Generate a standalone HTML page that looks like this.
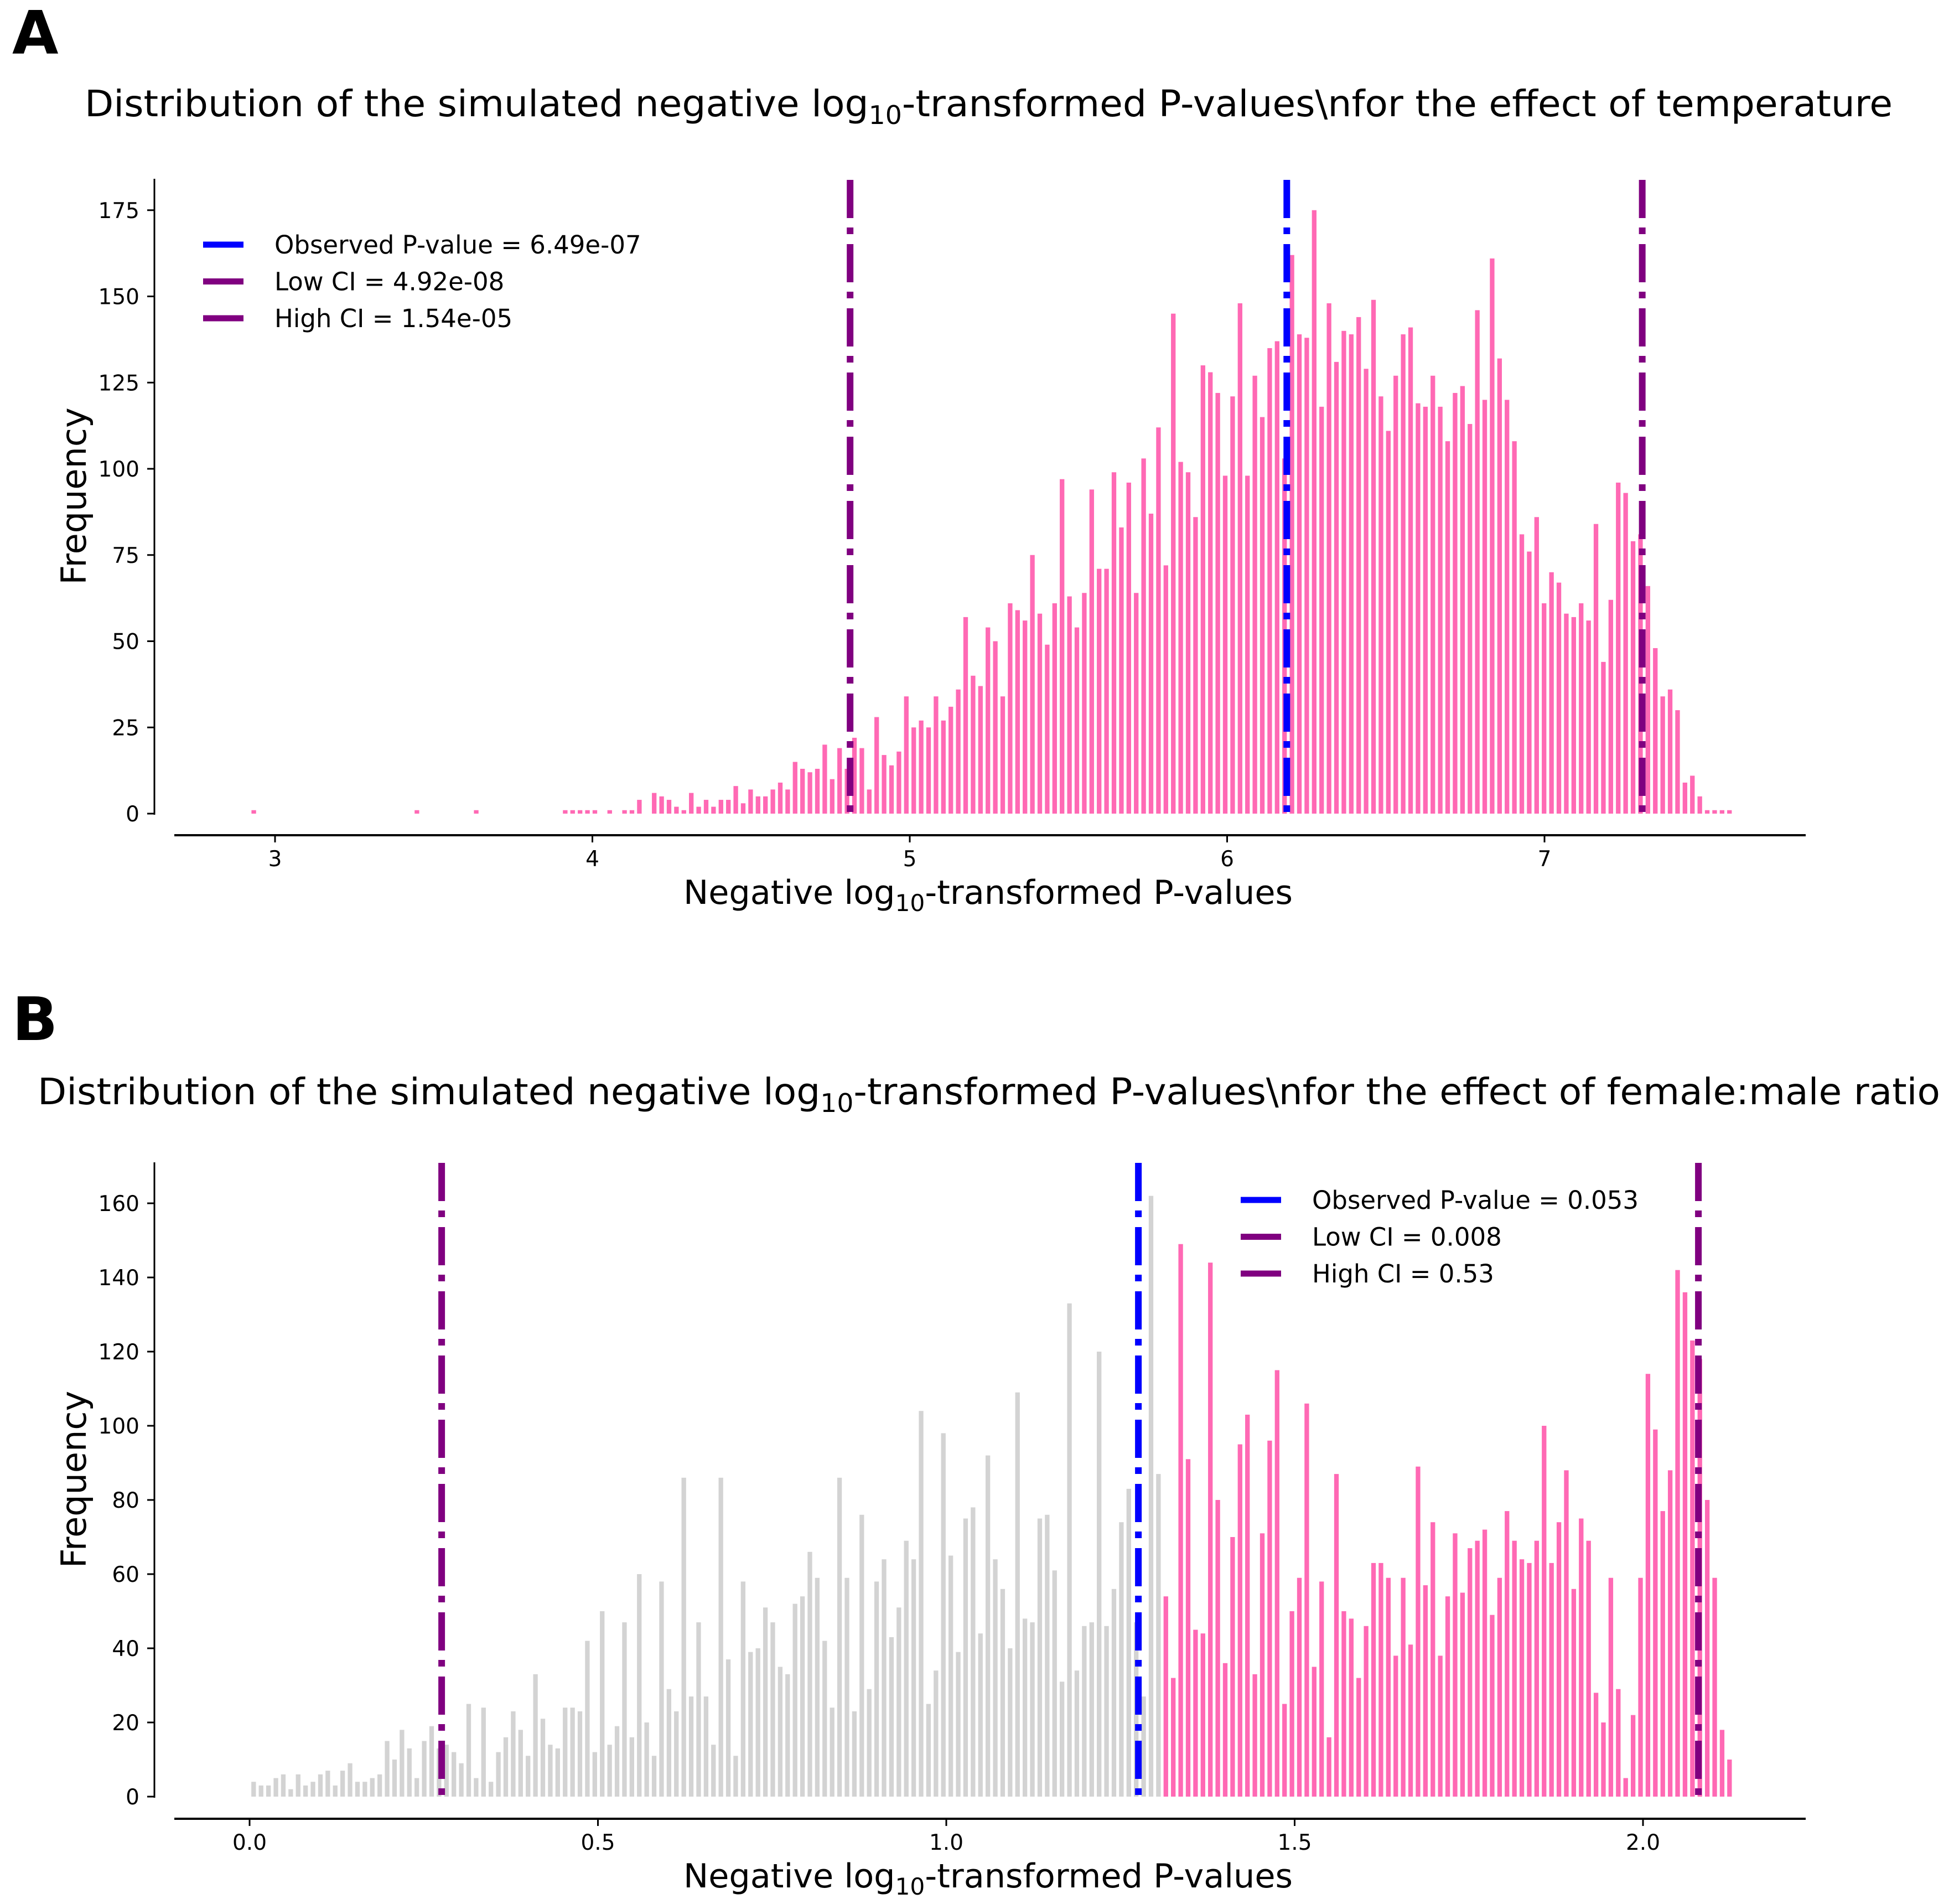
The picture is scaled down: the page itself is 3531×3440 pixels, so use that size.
<!DOCTYPE html>
<html><head><meta charset="utf-8"><style>
html,body{margin:0;padding:0;background:#fff;}
svg{display:block;font-family:"DejaVu Sans","Liberation Sans",sans-serif;}
</style></head><body>
<svg id="fig" width="3531" height="3440" viewBox="0 0 3531 3440" xmlns="http://www.w3.org/2000/svg">
<rect width="3531" height="3440" fill="#fff"/>
<text x="22" y="97" font-size="108" font-weight="bold">A</text>
<text x="153" y="210" font-size="66" textLength="3267" lengthAdjust="spacingAndGlyphs">Distribution of the simulated negative log<tspan font-size="46" dy="14">10</tspan><tspan dy="-14">-transformed P-values\nfor the effect of temperature</tspan></text>
<text x="22" y="1879" font-size="108" font-weight="bold">B</text>
<text x="68" y="1995" font-size="66" textLength="3438" lengthAdjust="spacingAndGlyphs">Distribution of the simulated negative log<tspan font-size="46" dy="14">10</tspan><tspan dy="-14">-transformed P-values\nfor the effect of female:male ratio</tspan></text>
<g id="pa"></g>
<g id="pb"></g>
</svg>
<script>
// ---- Panel A data ----
const countsA = [1,0,0,0,0,0,0,0,0,0,0,0,0,0,0,0,0,0,0,0,0,0,1,0,0,0,0,0,0,0,1,0,0,0,0,0,0,0,0,0,0,0,1,1,1,1,1,0,1,0,1,1,
4,0,6,5,4,2,1,6,2,4,2,4,4,8,3,7,5,5,7,9,7,15,13,12,13,20,10,19,13,22,19,7,28,17,14,18,34,25,27,25,34,27,31,36,57,
40,37,54,50,34,61,59,56,75,58,49,61,97,63,54,64,94,71,71,99,83,96,64,103,87,112,72,145,102,99,86,130,128,122,98,121,148,98,127,115,135,137,103,162,139,138,175,118,148,131,140,139,144,
129,149,121,111,127,139,141,119,118,127,118,108,122,124,113,146,120,161,132,120,108,81,76,86,61,70,67,58,57,61,56,84,44,62,96,93,79,81,66,48,34,36,30,9,11,5,1,1,1,1];
const binStartA = 2.9213;
const binWidthA = 0.023366;
const ticksA_x = [3,4,5,6,7];
const ticksA_y = [0,25,50,75,100,125,150,175];
const linesA = [6.188, 4.812, 7.308];
const legendA = ["Observed P-value = 6.49e-07","Low CI = 4.92e-08","High CI = 1.54e-05"];

// ---- Panel B data ----
const countsB = [4,3,3,5,6,2,6,3,4,6,7,3,7,9,4,4,5,6,15,10,18,13,5,15,19,13,14,12,9,25,5,24,4,12,16,23,18,11,33,21,14,13,24,24,23,42,12,50,14,19,47,16,60,20,11,58,29,23,86,27,47,27,14,86,37,11,
58,39,40,51,47,35,33,52,54,66,59,42,24,86,59,23,76,29,58,64,43,51,69,64,104,25,34,98,65,39,75,78,44,92,64,56,40,109,48,47,75,76,61,31,133,34,46,47,120,46,56,74,83,47,27,162,87,54,32,149,91,45,44,144,80,36,70,95,
103,33,71,96,115,25,50,59,106,35,58,16,87,50,48,32,46,63,63,59,38,59,41,89,57,74,38,54,71,55,67,69,72,49,59,77,69,64,63,69,100,63,74,88,56,75,69,28,20,59,29,5,22,59,114,99,77,88,142,136,123,118,80,59,18,10];
const binStartB = 0.0005;
const binWidthB = 0.010645;
const sigThreshold = 1.30103;
const ticksB_x = [0.0,0.5,1.0,1.5,2.0];
const ticksB_y = [0,20,40,60,80,100,120,140,160];
const linesB = [1.2757, 0.2757, 2.0795];
const legendB = ["Observed P-value = 0.053","Low CI = 0.008","High CI = 0.53"];

const NS = "http://www.w3.org/2000/svg";
function mk(parent, tag, attrs, text){
  const e = document.createElementNS(NS, tag);
  for (const k in attrs) e.setAttribute(k, attrs[k]);
  if (text !== undefined) e.textContent = text;
  parent.appendChild(e);
  return e;
}
function drawPanel(g, o){
  const {counts, binStart, binWidth, xf, yf, ticksX, ticksY, fmtX, lines, legend, P, colorOf} = o;
  counts.forEach((c, i) => {
    if (c <= 0) return;
    const left = binStart + i*binWidth;
    const cx = xf(left + binWidth/2);
    const w = (xf(left+binWidth) - xf(left))*0.62;
    const r = mk(g, 'rect', {x: cx - w/2, y: yf(c), width: w, height: yf(0) - yf(c), fill: colorOf(left)});
    
    
  });
  const lcol = ['#0000ff', '#800080', '#800080'];
  lines.forEach((v, i) => {
    const l = mk(g, 'line', {x1: xf(v), x2: xf(v), y1: P.vTop, y2: P.vBot, stroke: lcol[i], 'stroke-width': 12, 'stroke-dasharray': '69 17 12 18'});
    
    
  });
  const ya = mk(g, 'line', {x1: 279, x2: 279, y1: P.yTop, y2: yf(0) + 2, stroke: '#000', 'stroke-width': 3});
  
  
  ticksY.forEach(t => {
    const y = yf(t);
    const tk = mk(g, 'line', {x1: 266, x2: 279, y1: y, y2: y, stroke: '#000', 'stroke-width': 3});
    
    
    const tl = mk(g, 'text', {x: 252, y: y + 14, 'font-size': 39, 'text-anchor': 'end'}, String(t));
    
    
  });
  const xa = mk(g, 'line', {x1: 315, x2: 3263, y1: P.xAxisY, y2: P.xAxisY, stroke: '#000', 'stroke-width': 4});
  
  
  ticksX.forEach(t => {
    const x = xf(t);
    const tk = mk(g, 'line', {x1: x, x2: x, y1: P.xAxisY, y2: P.xAxisY + 13, stroke: '#000', 'stroke-width': 3});
    
    
    const tl = mk(g, 'text', {x: x, y: P.xAxisY + 56, 'font-size': 39, 'text-anchor': 'middle'}, fmtX(t));
    
    
  });
  const xt = mk(g, 'text', {x: 1235, y: P.xAxisY + 124, 'font-size': 60, textLength: 1101, lengthAdjust: 'spacingAndGlyphs'});
  
  
  xt.appendChild(document.createTextNode('Negative log'));
  mk(xt, 'tspan', {'font-size': 42, dy: 13}, '10');
  mk(xt, 'tspan', {dy: -13}, '-transformed P-values');
  const yc = (P.yTop + yf(0)) / 2;
  const yt = mk(g, 'text', {x: 0, y: 0, 'font-size': 62, 'text-anchor': 'middle', transform: `translate(155 ${yc}) rotate(-90)`}, 'Frequency');
  
  
  legend.forEach((s, i) => {
    const y = P.legY + i*66.5;
    const ll = mk(g, 'line', {x1: P.legX, x2: P.legX + 73, y1: y, y2: y, stroke: lcol[i], 'stroke-width': 11});
    
    
    const lt = mk(g, 'text', {x: P.legX + 129, y: y + 16, 'font-size': 45}, s);
    
    
  });
}
const xA = v => 497 + (v - 3) * 573.5;
const yA = c => 1470 - c * 6.23;
const xB = v => 451 + v * 1259;
const yB = c => 3246 - c * 6.70;

drawPanel(document.getElementById('pa'), {
  counts: countsA, binStart: binStartA, binWidth: binWidthA, xf: xA, yf: yA,
  ticksX: ticksA_x, ticksY: ticksA_y, fmtX: t => String(t), lines: linesA, legend: legendA,
  P: {vTop: 325, vBot: 1477, yTop: 323, xAxisY: 1509, legX: 367, legY: 442},
  colorOf: () => '#ff69b4'
});
drawPanel(document.getElementById('pb'), {
  counts: countsB, binStart: binStartB, binWidth: binWidthB, xf: xB, yf: yB,
  ticksX: ticksB_x, ticksY: ticksB_y, fmtX: t => t.toFixed(1), lines: linesB, legend: legendB,
  P: {vTop: 2101, vBot: 3255, yTop: 2100, xAxisY: 3286, legX: 2242, legY: 2168},
  colorOf: left => left < sigThreshold ? '#d3d3d3' : '#ff69b4'
});
</script>
</body></html>
